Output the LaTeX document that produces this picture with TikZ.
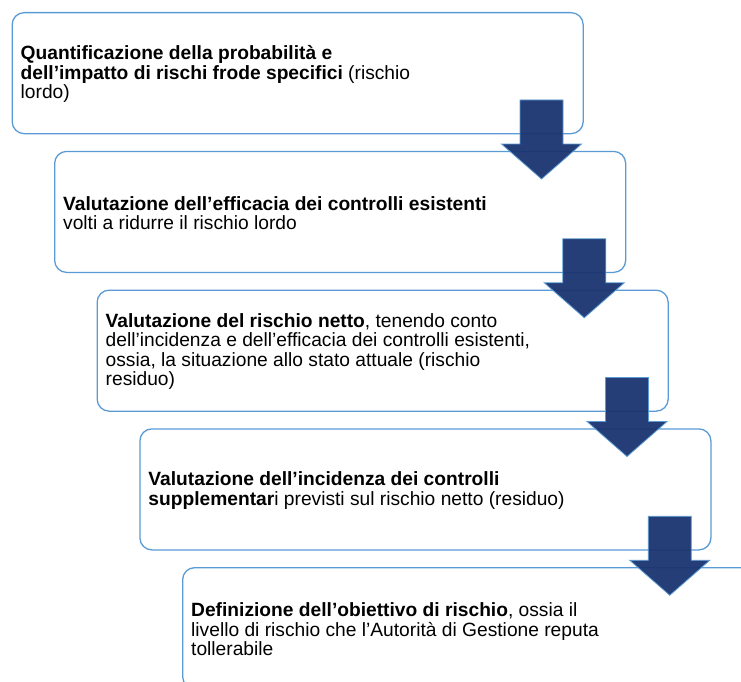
\documentclass[tikz,border=0pt]{standalone}
\usepackage{fontspec}
\setmainfont{Liberation Sans}
\definecolor{boxblue}{RGB}{91,155,213}
\definecolor{navy}{RGB}{26,52,112}
\begin{document}
\begin{tikzpicture}[x=1bp,y=-1bp,
  box/.style={draw=boxblue, line width=1.3bp, rounded corners=12bp, fill=white,
    minimum width=571bp, minimum height=121bp, anchor=north west, inner sep=0pt},
  txt/.style={anchor=west, align=left, inner sep=0pt, text=black,
    font=\fontsize{19.2bp}{19.5bp}\selectfont},
  blockarrow/.style={fill=navy, draw=boxblue, line width=0.8bp, fill opacity=0.95}]
\useasboundingbox (0,0) rectangle (741,682);
\clip (0,0) rectangle (741,682);
\fill[white] (0,0) rectangle (741,682);
% boxes
\node[box] (b1) at (11.5,12) {};
\node[box] (b2) at (54,150.75) {};
\node[box] (b3) at (96.5,289.5) {};
\node[box] (b4) at (139.25,428.25) {};
\node[box] (b5) at (182,567) {};
% texts
\node[txt] (t1) at ([xshift=9bp,yshift=-1bp]b1.west) {\textbf{Quantificazione della probabilità e}\\\textbf{dell’impatto di rischi frode specifici} (rischio\\lordo)};
\node[txt] (t2) at ([xshift=9bp,yshift=-1bp]b2.west) {\textbf{Valutazione dell’efficacia dei controlli esistenti}\\volti a ridurre il rischio lordo};
\node[txt] (t3) at ([xshift=9bp,yshift=-1bp]b3.west) {\textbf{Valutazione del rischio netto}, tenendo conto\\dell’incidenza e dell’efficacia dei controlli esistenti,\\ossia, la situazione allo stato attuale (rischio\\residuo)};
\node[txt] (t4) at ([xshift=9bp,yshift=-1bp]b4.west) {\textbf{Valutazione dell’incidenza dei controlli}\\\textbf{supplementar}i previsti sul rischio netto (residuo)};
\node[txt] (t5) at ([xshift=9bp,yshift=-1bp]b5.west) {\textbf{Definizione dell’obiettivo di rischio}, ossia il\\livello di rischio che l’Autorità di Gestione reputa\\tollerabile};
% block arrows
\coordinate (a1) at (541.5,100);
\coordinate (a2) at (584.25,238.75);
\coordinate (a3) at (627,377.5);
\coordinate (a4) at (669.75,516.25);
\foreach \a in {a1,a2,a3,a4}{
  \draw[blockarrow] (\a) ++(-21.5,0) -- ++(43,0) -- ++(0,44) -- ++(18.5,0)
    -- ++(-40,35) -- ++(-40,-35) -- ++(18.5,0) -- cycle;
}
\end{tikzpicture}
\end{document}
